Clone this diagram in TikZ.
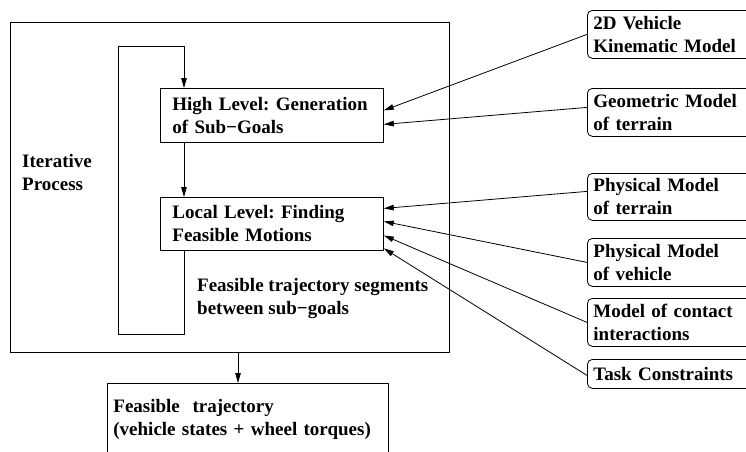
\documentclass[tikz,border=0pt]{standalone}
\usepackage{fontspec}
\setmainfont{Liberation Serif}
\usetikzlibrary{arrows.meta}
\frenchspacing
\begin{document}
\begin{tikzpicture}[x=1pt,y=-1pt,
  every node/.style={font=\fontsize{19}{23}\selectfont\bfseries\frenchspacing},
  line/.style={line width=0.8pt},
  arr/.style={line width=0.8pt,-{Triangle[length=10pt,width=5.5pt]}},
  box/.style={draw,line width=0.8pt,rectangle,align=left,anchor=north west,inner sep=0pt},
  model/.style={draw,line width=0.8pt,rectangle,rounded corners=5pt,anchor=north west,minimum width=180pt,text width=168pt,align=left,inner xsep=6pt,inner ysep=0pt}
]
\useasboundingbox (0,0) rectangle (746,451);
\clip (0,0) rectangle (746,451);
% outer iterative box
\node[box,minimum width=439pt,minimum height=330pt] (outer) at (10,22) {};
\node[anchor=west,align=left,inner sep=0pt] (iter) at (22,172) {Iterative\\Process};
% levels
\node[box,minimum width=223pt,minimum height=54pt,text width=199pt,inner xsep=12pt] (high) at (160,88) {High Level: Generation\\of Sub−Goals};
\node[box,minimum width=223pt,minimum height=53pt,text width=199pt,inner xsep=12pt] (local) at (160,197) {Local Level: Finding\\Feasible Motions};
\node[anchor=west,align=left,inner sep=0pt] (seg) at (197,298.5) {Feasible trajectory segments\\between sub−goals};
% output
\node[box,minimum width=281pt,minimum height=73pt,text width=269pt,inner xsep=6pt] (out) at (107,383) {Feasible\ \ trajectory\\(vehicle states + wheel torques)};
% models
\node[model,minimum height=48pt] (m1) at (587,10) {2D Vehicle\\Kinematic Model};
\node[model,minimum height=48pt] (m2) at (587,88) {Geometric Model\\of terrain};
\node[model,minimum height=47pt] (m3) at (587,173) {Physical Model\\of terrain};
\node[model,minimum height=48pt] (m4) at (587,238) {Physical Model\\of vehicle};
\node[model,minimum height=48pt] (m5) at (587,298) {Model of contact\\interactions};
\node[model,minimum height=29pt] (m6) at (587,359) {Task Constraints};
% loop
\coordinate (lx) at (184,0);
\coordinate (lt) at (118,46);
\coordinate (lb) at (118,334);
\draw[arr] (local.south -| lx) |- (lb) -- (lt) -| (high.north -| lx);
\draw[arr] (high.south -| lx) -- (local.north -| lx);
\coordinate (ox) at (238,0);
\draw[arr] (outer.south -| ox) -- (out.north -| ox);
% model arrows
\draw[arr] (m1.west) -- ([yshift=5pt]high.east);
\draw[arr] ([yshift=5pt]m2.west) -- ([yshift=-9pt]high.east);
\draw[arr] ([yshift=5.5pt]m3.west) -- ([yshift=15.5pt]local.east);
\draw[arr] (m4.west) -- ([yshift=2.5pt]local.east);
\draw[arr] (m5.west) -- ([yshift=-11.5pt]local.east);
\draw[arr] ([yshift=-1.5pt]m6.west) -- ([yshift=-24.5pt]local.east);
\end{tikzpicture}
\end{document}
